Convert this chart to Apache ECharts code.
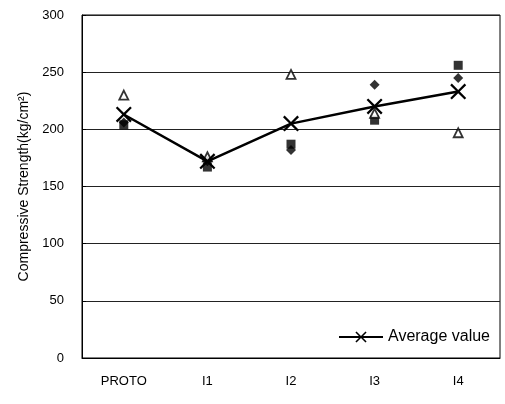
<!DOCTYPE html>
<html><head><meta charset="utf-8">
<script src="https://cdn.jsdelivr.net/npm/echarts@6/dist/echarts.min.js"></script>
<style>html,body{margin:0;padding:0;background:#fff}#c{width:505px;height:404px}</style>
</head><body><div id="c"></div>
<script>
const categories = ['PROTO', 'I1', 'I2', 'I3', 'I4'];
const specimenDiamond = [206, 172, 182, 239, 245];
const specimenSquare = [204, 167, 187, 208, 256];
const specimenTriangle = [230, 176, 248, 214, 197];
const averageValue = [213, 172, 205, 220, 233];
const yTicks = { min: 0, max: 300, interval: 50 };

const X_PATH = 'path://M0,1 L1,0 L5,4 L9,0 L10,1 L6,5 L10,9 L9,10 L5,6 L1,10 L0,9 L4,5 Z';
const font = 'Liberation Sans, Arial, sans-serif';

const chart = echarts.init(document.getElementById('c'));
chart.setOption({
  animation: false,
  backgroundColor: '#fff',
  grid: { left: 82, right: 5, top: 15, bottom: 46, show: true, borderColor: '#000', borderWidth: 1 },
  legend: {
    data: ['Average value'],
    right: 10, bottom: 54, itemWidth: 44, itemHeight: 14,
    textStyle: { fontFamily: font, fontSize: 16, color: '#000' },
    itemGap: 2
  },
  xAxis: {
    type: 'category', data: categories, boundaryGap: true,
    axisLine: { lineStyle: { color: '#000', width: 1 } },
    axisTick: { inside: true, length: 4, lineStyle: { color: '#000' } },
    axisLabel: { color: '#000', fontFamily: font, fontSize: 13, margin: 17 }
  },
  yAxis: {
    type: 'value', min: yTicks.min, max: yTicks.max, interval: yTicks.interval,
    name: 'Compressive Strength(kg/cm²)', nameLocation: 'middle', nameGap: 50,
    nameTextStyle: { fontFamily: font, fontSize: 14, color: '#000' },
    axisLine: { show: true, lineStyle: { color: '#000' } },
    axisTick: { show: true, inside: true, length: 4, lineStyle: { color: '#000' } },
    axisLabel: { color: '#000', fontFamily: font, fontSize: 13, margin: 18 },
    splitLine: { show: true, lineStyle: { color: '#222', width: 1 } }
  },
  series: [
    { name: 'S1', type: 'scatter', data: specimenDiamond, symbol: 'diamond', symbolSize: 10,
      itemStyle: { color: '#000' }, z: 3 },
    { name: 'S2', type: 'scatter', data: specimenSquare, symbol: 'rect', symbolSize: 9,
      itemStyle: { color: '#000' }, z: 3 },
    { name: 'S3', type: 'scatter', data: specimenTriangle, symbol: 'triangle', symbolSize: 9,
      itemStyle: { color: '#fff', borderColor: '#000', borderWidth: 1.8 }, z: 3 },
    { name: 'Average value', type: 'line', data: averageValue, symbol: X_PATH, symbolSize: 16,
      showAllSymbol: true,
      lineStyle: { color: '#000', width: 2.5 }, itemStyle: { color: '#000' }, z: 4 }
  ]
});
</script></body></html>
